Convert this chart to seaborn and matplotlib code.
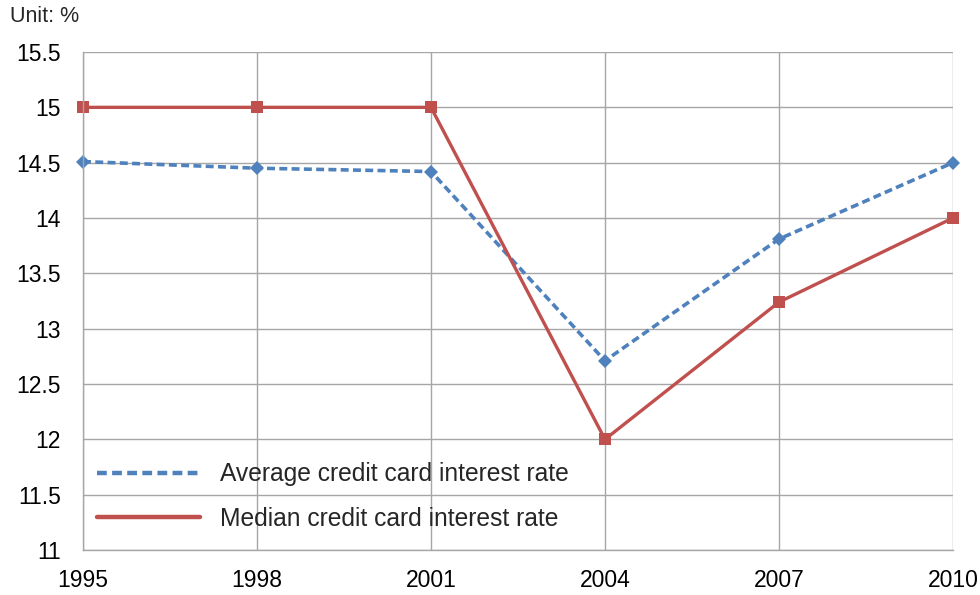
import matplotlib
matplotlib.use("Agg")
import matplotlib.pyplot as plt
import seaborn as sns
import pandas as pd

years = [1995, 1998, 2001, 2004, 2007, 2010]
average_rate = [14.51, 14.45, 14.42, 12.71, 13.81, 14.50]
median_rate = [15.0, 15.0, 15.0, 12.0, 13.24, 14.0]
series_names = ["Average credit card interest rate", "Median credit card interest rate"]
y_ticks = [11, 11.5, 12, 12.5, 13, 13.5, 14, 14.5, 15, 15.5]
y_tick_labels = ["11", "11.5", "12", "12.5", "13", "13.5", "14", "14.5", "15", "15.5"]

df = pd.DataFrame({
    "year": years * 2,
    "rate": average_rate + median_rate,
    "series": [series_names[0]] * len(years) + [series_names[1]] * len(years),
})

sns.set_style("white")
plt.rcParams['font.family'] = ['Liberation Sans', 'DejaVu Sans']

fig = plt.figure(figsize=(9.8, 5.95), dpi=100)
ax = fig.add_axes([0.0847, 0.0756, 0.8877, 0.837])

blue = "#4F81BD"
red = "#C0504D"
sns.lineplot(data=df[df.series == series_names[0]], x="year", y="rate", ax=ax,
             color=blue, linewidth=2.6, linestyle=(0, (2.2, 1.2)), marker="D",
             markersize=7.3, markeredgewidth=0, label=series_names[0], clip_on=False)
sns.lineplot(data=df[df.series == series_names[1]], x="year", y="rate", ax=ax,
             color=red, linewidth=2.4, marker="s",
             markersize=9, markeredgewidth=0, label=series_names[1], clip_on=False)

ax.set_xlim(1995, 2010)
ax.set_ylim(11, 15.5)
ax.set_xticks(years)
ax.set_xticklabels([str(y) for y in years])
ax.set_yticks(y_ticks)
ax.set_yticklabels(y_tick_labels)
ax.grid(True, color="#A6A6A6", linewidth=1.0)
ax.set_axisbelow(True)
for s in ["top", "right"]:
    ax.spines[s].set_visible(False)
for s in ["left", "bottom"]:
    ax.spines[s].set_color("#A6A6A6")
    ax.spines[s].set_linewidth(1.0)
ax.tick_params(axis="both", which="both", length=5, color="#A6A6A6",
               labelsize=16.5, labelcolor="black", direction="out")
ax.tick_params(axis="y", pad=11)
ax.tick_params(axis="x", pad=9)
ax.set_xlabel("")
ax.set_ylabel("")

leg = ax.legend(loc="lower left", bbox_to_anchor=(0.016, 0.038), frameon=False,
                fontsize=17.7, handlelength=4.2, handletextpad=0.82,
                labelspacing=0.85, borderaxespad=0, borderpad=0)
for h in leg.legend_handles:
    h.set_marker("")
    h.set_linewidth(3.2)

fig.text(10 / 980, 1 - 16 / 595, "Unit: %", fontsize=15.5, va="center", ha="left")

fig.savefig("out.png", dpi=100)
